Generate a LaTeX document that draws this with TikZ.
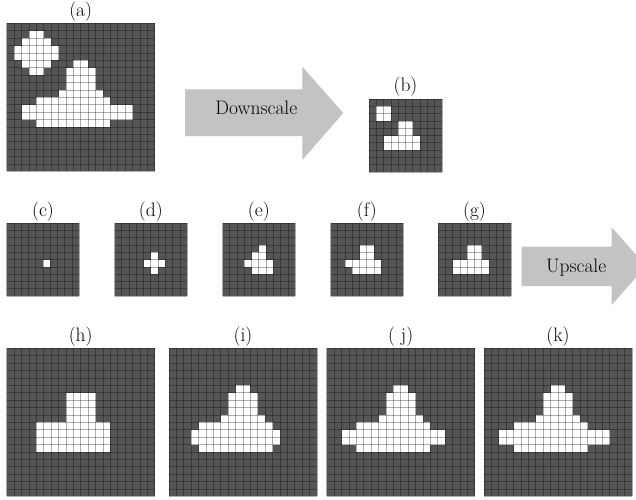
\documentclass[tikz,border=0pt]{standalone}
\definecolor{cellbg}{HTML}{555555}
\definecolor{arrowgray}{HTML}{C3C3C3}
\tikzset{
  gridln/.style={draw=black, draw opacity=0.32, line width=0.8pt},
  lbl/.style={anchor=south, inner sep=0pt, font=\rmfamily\fontsize{19.5}{23}\selectfont},
  arrtext/.style={anchor=base, inner sep=0pt, font=\rmfamily\fontsize{19.5}{23}\selectfont},
  bigarrow/.style={fill=arrowgray, draw=none}
}
% #1 x, #2 y, #3 n, #4 cell size, #5 runs row/first/last
\newcommand\pixgrid[5]{%
  \fill[cellbg] (#1,#2) rectangle ++({#3*#4},{#3*#4});
  \foreach \r/\a/\b in {#5} {
    \fill[white] ({#1+\a*#4},{#2+\r*#4}) rectangle ({#1+(\b+1)*#4},{#2+(\r+1)*#4});
  }
  \foreach \k in {0,...,#3} {
    \draw[gridln] ({#1+\k*#4},#2) -- ++(0,{#3*#4});
    \draw[gridln] (#1,{#2+\k*#4}) -- ++({#3*#4},0);
  }
}
\begin{document}
\begin{tikzpicture}[x=1pt,y=-1pt]
\clip (0,0) rectangle (636,499);
% (a)
\pixgrid{6.7}{23.3}{20}{7.4}{1/3/4,2/2/5,3/1/6,4/1/6,5/2/5,6/3/4,5/9/10,6/8/11,7/8/11,8/8/11,9/7/12,10/4/13,11/2/16,12/2/16,13/4/13}
\node[lbl] (la) at (80.7,21.3) {(a)};
% Downscale arrow
\fill[bigarrow] (185,89.3) -- (302.3,89.3) -- (302.3,66.7) -- (343.3,113) -- (302.3,160) -- (302.3,136) -- (185,136) -- cycle;
\node[arrtext] (down) at (256.3,114) {Downscale};
% (b)
\pixgrid{369}{99}{10}{7.3}{1/1/2,2/1/2,3/4/5,4/4/5,5/2/6,6/2/6}
\node[lbl] (lb) at (405.5,97) {(b)};
% row 2
\pixgrid{6.7}{223.3}{10}{7.27}{5/5/5}
\node[lbl] (lc) at (43.0,221.3) {(c)};
\pixgrid{114.5}{223.3}{10}{7.27}{4/5/5,5/4/6,6/5/5}
\node[lbl] (ld) at (150.8,221.3) {(d)};
\pixgrid{222.5}{223.3}{10}{7.27}{3/5/5,4/4/5,5/3/6,6/4/6}
\node[lbl] (le) at (258.8,221.3) {(e)};
\pixgrid{330.5}{223.3}{10}{7.27}{3/4/5,4/4/5,5/2/6,6/3/6}
\node[lbl] (lf) at (366.8,221.3) {(f)};
\pixgrid{438.2}{223.3}{10}{7.27}{3/4/5,4/4/5,5/2/6,6/2/6}
\node[lbl] (lg) at (474.5,221.3) {(g)};
% Upscale arrow
\fill[bigarrow] (521.7,246.7) -- (611.7,246.7) -- (611.7,227.3) -- (646,266) -- (611.7,305) -- (611.7,286) -- (521.7,286) -- cycle;
\node[arrtext] (up) at (576.2,272.7) {Upscale};
% row 3
\pixgrid{6.7}{348.3}{20}{7.4}{6/8/11,7/8/11,8/8/11,9/8/11,10/4/13,11/4/13,12/4/13,13/4/13}
\node[lbl] (lh) at (80.7,346.3) {(h)};
\pixgrid{169}{348.3}{20}{7.4}{5/9/10,6/8/11,7/8/11,8/8/11,9/7/12,10/4/13,11/3/14,12/3/14,13/4/13}
\node[lbl] (li) at (243,346.3) {(i)};
\pixgrid{326.7}{348.3}{20}{7.4}{5/9/10,6/8/11,7/8/11,8/8/11,9/7/12,10/4/13,11/2/15,12/2/15,13/4/13}
\node[lbl] (lj) at (400.7,346.3) {( j)};
\pixgrid{484}{348.3}{20}{7.4}{5/9/10,6/8/11,7/8/11,8/8/11,9/7/12,10/4/13,11/2/16,12/2/16,13/4/13}
\node[lbl] (lk) at (558,346.3) {(k)};
\end{tikzpicture}
\end{document}
